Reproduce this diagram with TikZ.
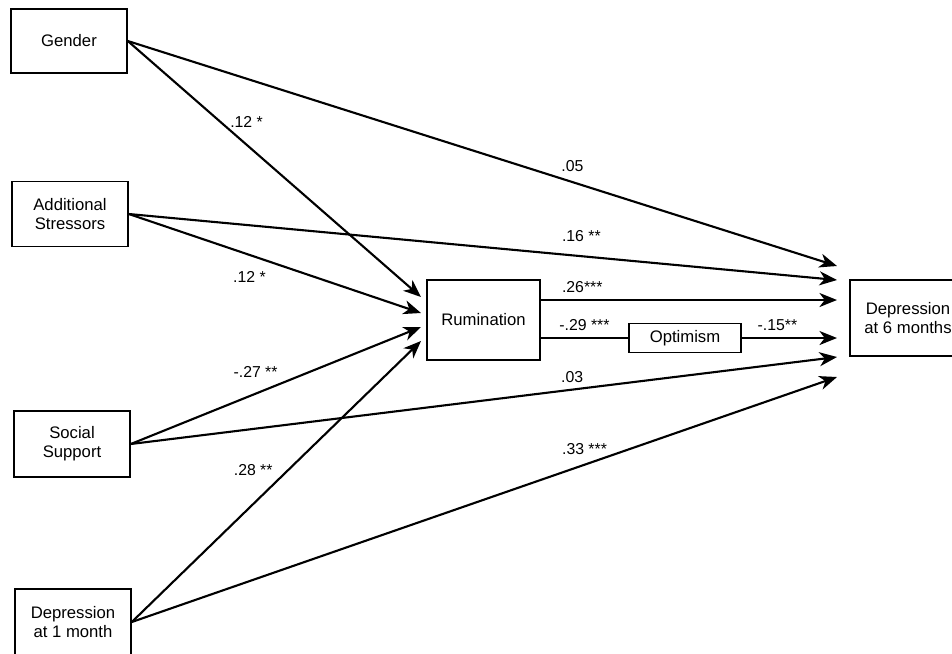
\documentclass[tikz,border=0pt]{standalone}
\usepackage{fontspec}
\setmainfont{Liberation Sans}
\usetikzlibrary{positioning,arrows.meta}

\begin{document}
\begin{tikzpicture}[x=0.02cm, y=-0.02cm, line width=1.2pt,
    box/.style={draw, rectangle, line width=0.9pt, align=center, minimum width=2.32cm, font=\fontsize{9.5}{11}\selectfont},
    lbl/.style={font=\fontsize{9}{10}\selectfont},
    >={Stealth[length=10pt,width=8pt,inset=3pt]}]
    \useasboundingbox (0,0) rectangle (952,653);

    % Predictors
    \node[box, minimum height=1.28cm] (gender) at (69,41) {Gender};
    \node[box, minimum height=1.3cm] (stress) at (70,214) {Additional\\Stressors};
    \node[box, minimum height=1.32cm] (social) at (72,444) {Social\\Support};
    \node[box, minimum height=1.32cm] (dep1) at (73,622) {Depression\\at 1 month};

    % Mediators
    \node[box, minimum width=2.26cm, minimum height=1.6cm] (rum) at (483.5,320) {Rumination};
    \node[box, minimum width=2.24cm, minimum height=0.58cm] (opt) at (685,338) {Optimism};

    % Outcome
    \node[box, minimum height=1.52cm] (dep6) at (908,318) {Depression\\at 6 months};

    % Arrow tips
    \coordinate (r1) at (421,297);
    \coordinate (r2) at (421,313);
    \coordinate (r3) at (421,327);
    \coordinate (r4) at (421,341);
    \coordinate (t1) at (837,266);
    \coordinate (t2) at (837,280);
    \coordinate (t3) at (837,300);
    \coordinate (t4) at (837,338);
    \coordinate (t5) at (837,357);
    \coordinate (t6) at (837,377);

    % Arrows
    \draw[->] (gender.east) -- (r1) node[lbl, pos=0.405, above=6pt] {.12 *};
    \draw[->] (gender.east) -- (t1) node[lbl, pos=0.627, above=2pt] {.05};
    \draw[->] (stress.east) -- (t2) node[lbl, pos=0.639, above=4.5pt] {.16 **};
    \draw[->] (stress.east) -- (r2) node[lbl, pos=0.413, below=5.5pt] {.12 *};
    \draw[->] (social.east) -- (r3) node[lbl, pos=0.43, above=5.5pt] {-.27 **};
    \draw[->] (social.east) -- (t5) node[lbl, pos=0.625, above] {.03};
    \draw[->] (dep1.east) -- (r4) node[lbl, pos=0.541, left=5pt] {.28 **};
    \draw[->] (dep1.east) -- (t6) node[lbl, pos=0.642, above=2pt] {.33 ***};
    \draw[->] (rum.east |- t3) -- (t3) node[lbl, pos=0.14, above] {.26***};
    \draw (rum.east |- opt) -- (opt) node[lbl, midway, above] {-.29 ***};
    \draw[->] (opt) -- (t4) node[lbl, pos=0.375, above] {-.15**};
\end{tikzpicture}
\end{document}
